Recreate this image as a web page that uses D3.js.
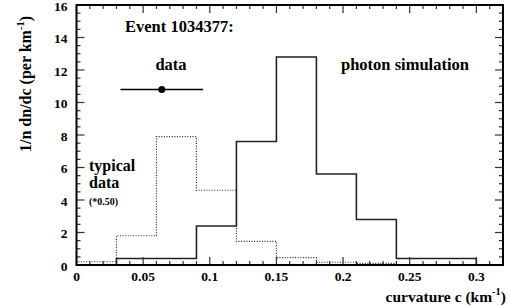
<!DOCTYPE html>
<html>
<head>
<meta charset="utf-8">
<script src="https://cdn.jsdelivr.net/npm/d3@7"></script>
<style>
  body { margin: 0; background: #fff; }
</style>
</head>
<body>
<div class="chart"></div>
<script>
// histogram bin edges, width 0.03
var binEdges = [0, 0.03, 0.06, 0.09, 0.12, 0.15, 0.18, 0.21, 0.24, 0.27, 0.30];
// photon simulation (solid)
var simValues = [0, 0.4, 0.4, 2.4, 7.6, 12.8, 5.6, 2.8, 0.4, 0.4];
// typical data scaled *0.50 (dotted)
var typValues = [0.2, 1.8, 7.9, 4.6, 1.45, 0.45, 0.17, 0.1, 0.03, 0.02];
// the event's measurement
var eventPoint = { c: 0.064, err: 0.031, y: 10.8 };
var xTicks = [0, 0.05, 0.1, 0.15, 0.2, 0.25, 0.3];
var yTicks = [0, 2, 4, 6, 8, 10, 12, 14, 16];

var width = 510,
    height = 306;
var margin = { left: 76.5, right: 7, top: 5, bottom: 41 };

var x = d3.scaleLinear().domain([0, 0.32]).range([margin.left, width - margin.right]);
var y = d3.scaleLinear().domain([0, 16]).range([height - margin.bottom, margin.top]);

var svg = d3.select(".chart").append("svg")
  .attr("width", width)
  .attr("height", height);

// every label in bold Times-like serif
function label(sel, size) {
  return sel.style("font-family", "Liberation Serif")
    .style("font-weight", "bold")
    .style("font-size", size + "px");
}

function histPath(vals) {
  var pts = [];
  vals.forEach(function(v, i) {
    pts.push([x(binEdges[i]), y(v)]);
    pts.push([x(binEdges[i + 1]), y(v)]);
  });
  // drop back to the axis at both ends
  pts.unshift([x(binEdges[0]), y(0)]);
  pts.push([x(binEdges[binEdges.length - 1]), y(0)]);
  return d3.line()(pts);
}

svg.append("path")
  .attr("d", histPath(typValues))
  .attr("fill", "none")
  .attr("stroke", "#222")
  .attr("stroke-width", 1.2)
  .attr("stroke-dasharray", "1,1.6");

svg.append("path")
  .attr("d", histPath(simValues))
  .attr("fill", "none")
  .attr("stroke", "#222")
  .attr("stroke-width", 1.6);

// axes: ROOT style, ticks inside and mirrored
var x0 = x.range()[0], x1 = x.range()[1], y0 = y.range()[0], y1 = y.range()[1];
var minorX = d3.range(0, 0.3201, 0.01);
var minorY = d3.range(0, 16.01, 0.5);

var ticks = svg.append("g").attr("stroke", "#333").attr("stroke-width", 1.2);
minorX.forEach(function(v) {
  var major = Math.abs(v / 0.05 - Math.round(v / 0.05)) < 1e-6;
  var len = major ? 8 : 4;
  ticks.append("line").attr("x1", x(v)).attr("x2", x(v)).attr("y1", y0).attr("y2", y0 - len);
  ticks.append("line").attr("x1", x(v)).attr("x2", x(v)).attr("y1", y1).attr("y2", y1 + len);
});
minorY.forEach(function(v) {
  var major = Math.abs(v / 2 - Math.round(v / 2)) < 1e-6;
  var len = major ? 8 : 4;
  ticks.append("line").attr("x1", x0).attr("x2", x0 + len).attr("y1", y(v)).attr("y2", y(v));
  ticks.append("line").attr("x1", x1).attr("x2", x1 - len).attr("y1", y(v)).attr("y2", y(v));
});

svg.append("rect")
  .attr("x", x0).attr("y", y1)
  .attr("width", x1 - x0).attr("height", y0 - y1)
  .attr("fill", "none")
  .attr("stroke", "#000")
  .attr("stroke-width", 2);

label(svg.selectAll(".xlab")
  .data(xTicks)
  .enter().append("text")
  .attr("x", function(d) { return x(d); })
  .attr("y", y0 + 15.5)
  .attr("text-anchor", "middle"), 13.5)
  .text(function(d) { return d3.format("")(d); });

label(svg.selectAll(".ylab")
  .data(yTicks)
  .enter().append("text")
  .attr("x", x0 - 9)
  .attr("y", function(d) { return y(d) + 5.5; })
  .attr("text-anchor", "end"), 13.5)
  .text(function(d) { return d; });

// axis titles
var xt = label(svg.append("text")
  .attr("x", 506)
  .attr("y", 301.5)
  .attr("text-anchor", "end"), 15.5);
xt.append("tspan").text("curvature c (km");
xt.append("tspan").attr("dy", -7).style("font-size", "10.5px").text("-1");
xt.append("tspan").attr("dy", 7).text(")");

var yt = label(svg.append("text")
  .attr("transform", "translate(31,152) rotate(-90)")
  .attr("text-anchor", "start"), 16);
yt.append("tspan").text("1/n dn/dc (per km");
yt.append("tspan").attr("dy", -7).style("font-size", "10.5px").text("-1");
yt.append("tspan").attr("dy", 7).text(")");

// event data point with horizontal error bar
svg.append("line")
  .attr("x1", x(eventPoint.c - eventPoint.err))
  .attr("x2", x(eventPoint.c + eventPoint.err))
  .attr("y1", y(eventPoint.y)).attr("y2", y(eventPoint.y))
  .attr("stroke", "#000").attr("stroke-width", 1.3);
svg.append("circle")
  .attr("cx", x(eventPoint.c)).attr("cy", y(eventPoint.y))
  .attr("r", 3.5).attr("fill", "#000");

// labels
label(svg.append("text").attr("x", 125).attr("y", 32), 16.5).text("Event 1034377:");
label(svg.append("text").attr("x", 171).attr("y", 70).attr("text-anchor", "middle"), 16.5).text("data");
label(svg.append("text").attr("x", 341).attr("y", 70), 16.5).text("photon simulation");
label(svg.append("text").attr("x", 89).attr("y", 171), 16).text("typical");
label(svg.append("text").attr("x", 89).attr("y", 187.5), 16).text("data");
label(svg.append("text").attr("x", 89).attr("y", 205), 10).text("(*0.50)");
</script>
</body>
</html>
